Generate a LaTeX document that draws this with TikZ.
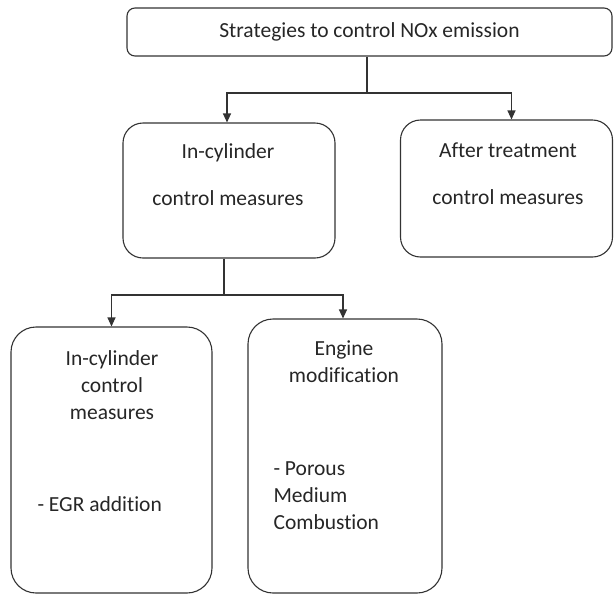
\documentclass[tikz,border=0pt]{standalone}
\usepackage{fontspec}
\setmainfont[Ligatures=CommonOff]{Carlito}
\usetikzlibrary{positioning,arrows.meta,calc}

\tikzset{
  box/.style={draw=black!80,line width=1.1pt},
  lbl/.style={font=\fontsize{21.5}{27}\selectfont,text=black!85,inner sep=0pt},
}

\begin{document}
\begin{tikzpicture}[x=1pt,y=-1pt,>={Triangle[length=9pt,width=8pt]},line width=1.1pt]
\useasboundingbox (0,0) rectangle (614,595);
\node[box,rounded corners=8pt,minimum width=485pt,minimum height=48pt] (top) at (369.5,32) {};
\node[box,rounded corners=20pt,minimum width=212pt,minimum height=135pt] (incyl) at (229,190.5) {};
\node[box,rounded corners=20pt,minimum width=212pt,minimum height=137pt] (after) at (506.5,188.5) {};
\node[box,rounded corners=25pt,minimum width=201pt,minimum height=266pt] (egr) at (111.5,460) {};
\node[box,rounded corners=25pt,minimum width=194pt,minimum height=274pt] (engine) at (345,456) {};

\node[lbl] (toplbl) at (369.5,32) {Strategies to control NOx emission};
\node[lbl,align=center] (incyllbl) at (228,153) {In-cylinder};
\node[lbl,align=center] (incyllbl2) at (228,198) {control measures};
\node[lbl,align=center] (afterlbl) at (508,150) {After treatment};
\node[lbl,align=center] (afterlbl2) at (508,197) {control measures};
\node[lbl,align=center] (egrlbl) at (112,385) {In-cylinder\\control\\measures};
\node[lbl,anchor=west] (egrlbl2) at (37,504) {- EGR addition};
\node[lbl,align=center] (enginelbl) at (344,362) {Engine\\modification};
\node[lbl,align=left,anchor=west] (enginelbl2) at (273,496) {- Porous\\Medium\\Combustion};

\coordinate (split1) at (367,93);
\coordinate (split2) at (224,295);
\draw[black!80] (split1 |- top.south) -- (split1);
\draw[black!80,->] (split1) -| ([xshift=-2pt]incyl.north);
\draw[black!80,->] (split1) -| ([xshift=5pt]after.north);
\draw[black!80] (split2 |- incyl.south) -- (split2);
\draw[black!80,->] (split2) -| (egr.north);
\draw[black!80,->] (split2) -| ([xshift=-2pt]engine.north);
\end{tikzpicture}
\end{document}
